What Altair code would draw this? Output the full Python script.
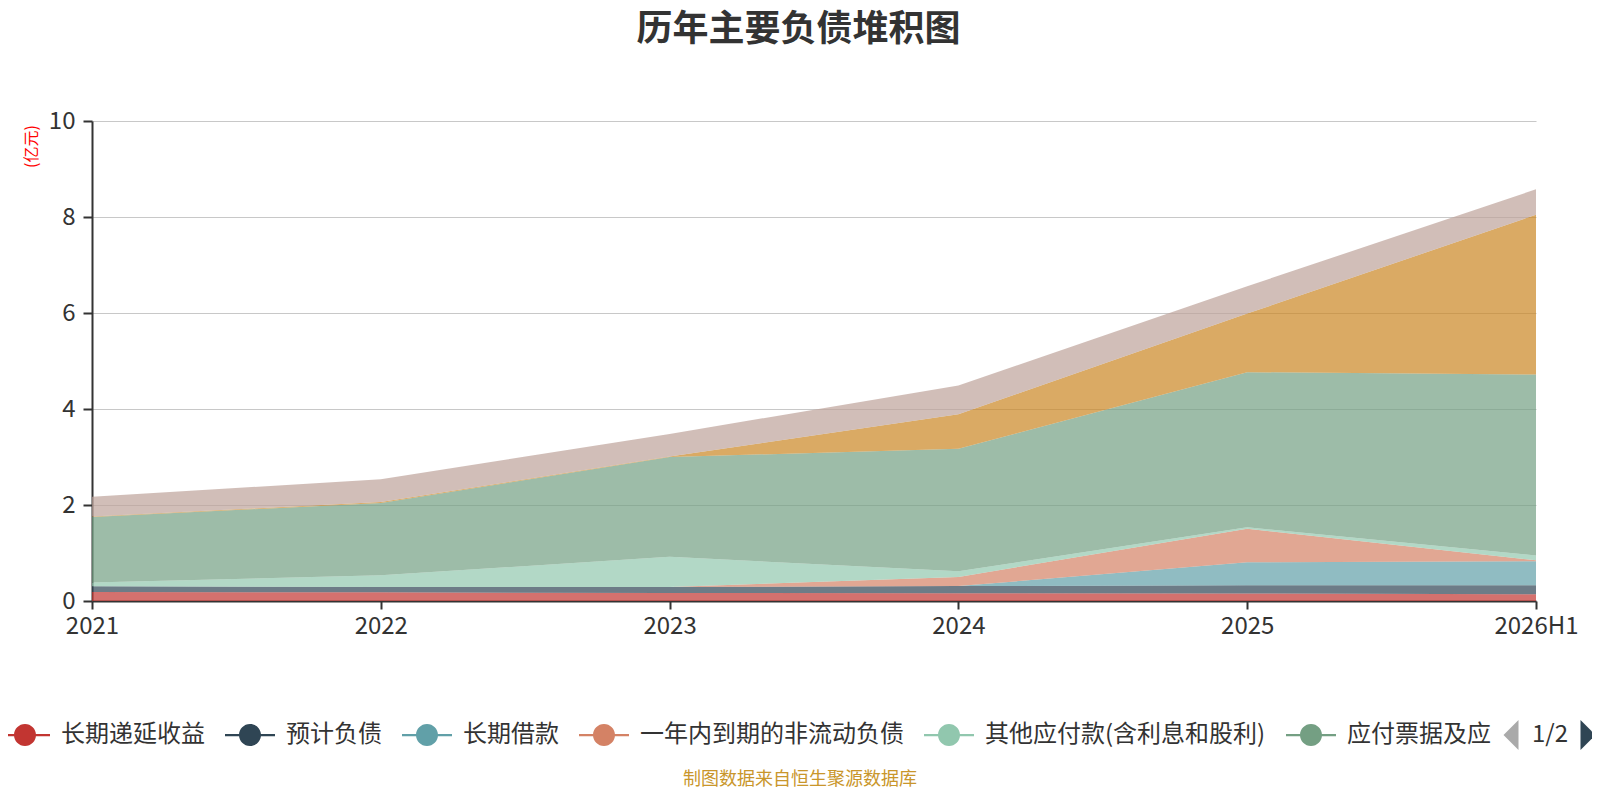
import altair as alt
import pandas as pd

FONT = "Noto Sans CJK SC"

years = ["2021", "2022", "2023", "2024", "2025", "2026H1"]
names = ["长期递延收益", "预计负债", "长期借款", "一年内到期的非流动负债",
         "其他应付款(含利息和股利)", "应付票据及应付账款", "短期借款", "合同负债"]
colors = ["#c23531", "#2f4554", "#61a0a8", "#d48265",
          "#91c7ae", "#749f83", "#ca8622", "#bda29a"]

deferred_income = [0.19, 0.18, 0.167, 0.16, 0.155, 0.14]
provisions = [0.116, 0.11, 0.123, 0.15, 0.172, 0.187]
long_loans = [0.0, 0.0, 0.0, 0.0, 0.48, 0.50]
current_noncurrent = [0.0, 0.0, 0.0, 0.19, 0.70, 0.02]
other_payables = [0.08, 0.245, 0.63, 0.12, 0.03, 0.10]
notes_accounts = [1.365, 1.505, 2.08, 2.55, 3.23, 3.77]
short_loans = [0.01, 0.02, 0.01, 0.72, 1.22, 3.33]
contract_liab = [0.41, 0.475, 0.47, 0.60, 0.57, 0.53]

series = [deferred_income, provisions, long_loans, current_noncurrent,
          other_payables, notes_accounts, short_loans, contract_liab]

legend_names = names[:6]
title_text = "历年主要负债堆积图"
y_unit = "(亿元)"
footer_text = "制图数据来自恒生聚源数据库"
page_text = "1/2"

rows = []
for i, (n, vals) in enumerate(zip(names, series)):
    for y, v in zip(years, vals):
        rows.append({"year": y, "name": n, "value": v, "idx": i})
df = pd.DataFrame(rows)

SYMBOL = ("M-1,-0.045 H1 V0.045 H-1 Z "
          "M0.44,0 A0.44,0.44 0 1,1 -0.44,0 A0.44,0.44 0 1,1 0.44,0 Z")

legend = alt.Legend(
    orient="none", legendX=-92, legendY=589, direction="horizontal",
    title=None, values=legend_names, symbolType=SYMBOL, symbolSize=2500,
    symbolStrokeWidth=0, symbolOpacity=1, labelFont=FONT, labelFontSize=24,
    labelColor="#333333", labelOffset=11, columnPadding=20, padding=0,
    labelLimit=600,
    labelExpr="datum.label == '应付票据及应付账款' ? '应付票据及应' : datum.label",
)

area = alt.Chart(df).mark_area(fillOpacity=0.7, strokeWidth=0).encode(
    x=alt.X("year:O", sort=years, scale=alt.Scale(type="point", padding=0),
            axis=alt.Axis(title=None, labelAngle=0, labelFont=FONT, labelFontSize=24,
                          labelColor="#333333", domainColor="#333333", domainWidth=2,
                          tickColor="#333333", tickSize=8, tickWidth=2, labelPadding=5,
                          grid=False)),
    y=alt.Y("value:Q", stack="zero", scale=alt.Scale(domain=[0, 10]),
            axis=alt.Axis(title=y_unit, titleColor="#ff0000", titleFont=FONT,
                          titleFontSize=16, titleFontWeight="normal", titleAngle=270,
                          titleX=-61, titleY=25, titleAlign="center", titleBaseline="middle",
                          values=[0, 2, 4, 6, 8, 10], labelFont=FONT, labelFontSize=24,
                          labelColor="#333333", domainColor="#333333", domainWidth=2,
                          tickColor="#333333", tickSize=9, tickWidth=2, labelPadding=8,
                          gridColor="#c8c8c8", gridWidth=1.2)),
    color=alt.Color("name:N", scale=alt.Scale(domain=names, range=colors), legend=legend),
    order=alt.Order("idx:Q", sort="ascending"),
)

footer = alt.Chart(pd.DataFrame({"t": [footer_text]})).mark_text(
    font=FONT, fontSize=18, color="#c9962b", align="center", baseline="middle"
).encode(x=alt.value(708), y=alt.value(659), text="t:N")

page = alt.Chart(pd.DataFrame({"t": [page_text]})).mark_text(
    font=FONT, fontSize=24, color="#333333", align="center", baseline="middle"
).encode(x=alt.value(1458), y=alt.value(614), text="t:N")

TRI_L = "M0.5,-1 L-0.5,0 L0.5,1 Z"
TRI_R = "M-0.5,-1 L0.5,0 L-0.5,1 Z"
prev_arrow = alt.Chart(pd.DataFrame({"t": ["prev"]})).mark_point(
    shape=TRI_L, size=900, filled=True, color="#aaaaaa", opacity=1
).encode(x=alt.value(1419), y=alt.value(614))
next_arrow = alt.Chart(pd.DataFrame({"t": ["next"]})).mark_point(
    shape=TRI_R, size=900, filled=True, color="#2f4554", opacity=1
).encode(x=alt.value(1496), y=alt.value(614))

chart = alt.layer(area, footer, page, prev_arrow, next_arrow).properties(
    width=1444, height=480,
    autosize=alt.AutoSizeParams(type="none"),
    padding={"left": 84, "top": 113, "right": 56, "bottom": 189},
    title=alt.TitleParams(text=title_text, font=FONT, fontSize=36, fontWeight="bold",
                          color="#333333", anchor="middle", frame="group", dx=-15.5,
                          offset=60),
).configure_view(stroke=None)

chart.save("out.html", embed_options={"renderer": "svg", "actions": False})
